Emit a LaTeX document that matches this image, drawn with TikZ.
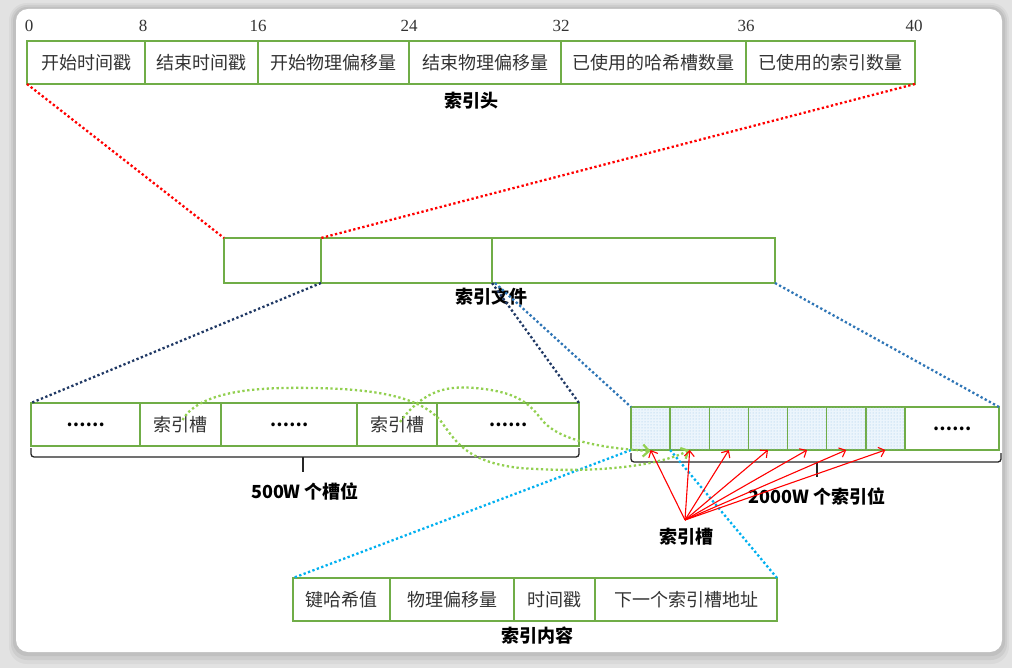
\documentclass[tikz,border=0pt]{standalone}
\usepackage{fontspec}
\newfontfamily\cjk{Noto Sans CJK SC}
\newfontfamily\numfont{Liberation Serif}
\usetikzlibrary{arrows.meta,patterns}
\definecolor{cellgreen}{RGB}{112,173,71}
\definecolor{curvegreen}{RGB}{146,208,80}
\definecolor{navyline}{RGB}{31,56,100}
\definecolor{blueline}{RGB}{46,117,182}
\definecolor{cyanline}{RGB}{0,176,240}
\definecolor{bgout}{RGB}{226,226,226}
\definecolor{shadefill}{RGB}{236,245,252}
\definecolor{shadedot}{RGB}{150,195,230}
\begin{document}
\begin{tikzpicture}[x=1pt,y=-1pt,
  cell/.style={draw=cellgreen, line width=1.4pt, minimum height=43pt, inner sep=0pt, outer sep=0pt,
    font=\cjk\fontsize{18}{20}\selectfont, text=black!80},
  shaded/.style={cell, fill=shadefill, postaction={pattern=dots, pattern color=shadedot}},
  dots/.style={font=\cjk\bfseries\fontsize{17}{20}\selectfont, text=black},
  lbl/.style={font=\cjk\bfseries\fontsize{18}{20}\selectfont, inner sep=0pt, text=black},
  num/.style={font=\numfont\fontsize{17}{20}\selectfont, inner sep=0pt, text=black!80},
  dotline/.style={line width=2.3pt, dash pattern=on 2.3pt off 2.4pt},
  greencurve/.style={curvegreen, line width=2.3pt, dash pattern=on 2.3pt off 2.6pt,
    -{Straight Barb[length=6pt,width=12pt,line width=2.2pt]}},
  redarrow/.style={red, line width=1.1pt, -{Straight Barb[length=5.5pt,width=10pt]}},
  bracepath/.style={black!85, line width=1.3pt, rounded corners=3pt}
]
\useasboundingbox (0,0) rectangle (1012,668);
% background and card
\fill[bgout] (0,0) rectangle (1012,668);
\fill[black, opacity=0.04, rounded corners=18pt] (9,3) rectangle (1009,664);
\fill[black, opacity=0.05, rounded corners=16pt] (11,5) rectangle (1007,660);
\fill[black, opacity=0.06, rounded corners=14pt] (13,7) rectangle (1005,656);
\fill[white, rounded corners=12pt] (16,9) rectangle (1002,652);

% ===== header =====
\node[cell, minimum width=118pt] (h1) at (86,62.5) {开始时间戳};
\node[cell, minimum width=113pt] (h2) at (201.5,62.5) {结束时间戳};
\node[cell, minimum width=151pt] (h3) at (333.5,62.5) {开始物理偏移量};
\node[cell, minimum width=152pt] (h4) at (485,62.5) {结束物理偏移量};
\node[cell, minimum width=185pt] (h5) at (653.5,62.5) {已使用的哈希槽数量};
\node[cell, minimum width=169pt] (h6) at (830.5,62.5) {已使用的索引数量};
\node[num] (n0) at (29,26) {0};
\node[num] (n8) at (143,26) {8};
\node[num] (n16) at (258,26) {16};
\node[num] (n24) at (409,26) {24};
\node[num] (n32) at (561,26) {32};
\node[num] (n36) at (746,26) {36};
\node[num] (n40) at (914,26) {40};
\node[lbl] (lh) at (471,101) {索引头};

% ===== index file =====
\node[cell, minimum width=97pt, minimum height=45pt] (m1) at (272.5,260.5) {};
\node[cell, minimum width=171pt, minimum height=45pt] (m2) at (406.5,260.5) {};
\node[cell, minimum width=283pt, minimum height=45pt] (m3) at (633.5,260.5) {};
\node[lbl] (lm) at (491,297) {索引文件};

% ===== slot bar =====
\node[cell, dots, minimum width=109pt] (s1) at (85.5,424.5) {……};
\node[cell, minimum width=81pt] (s2) at (180.5,424.5) {索引槽};
\node[cell, dots, minimum width=136pt] (s3) at (289,424.5) {……};
\node[cell, minimum width=80pt] (s4) at (397,424.5) {索引槽};
\node[cell, dots, minimum width=142pt] (s5) at (508,424.5) {……};
\draw[bracepath] (31,448) -- (31,457) -- (579,457) -- (579,448);
\coordinate (sb) at (303,457);
\draw[black!85, line width=1.6pt] (sb) -- ++(0,15);
\node[lbl] (ls) at (305,492) {500W 个槽位};

% ===== index bar =====
\foreach \k in {1,...,7} {
  \node[shaded, minimum width=39.14pt] (i\k) at ({631+39.14*(\k-0.5)},428.5) {};
}
\node[cell, dots, minimum width=94pt] (i8) at (952,428.5) {……};
\draw[bracepath] (631,453) -- (631,462) -- (1001,462) -- (1001,453);
\coordinate (ib) at (817,462);
\draw[black!85, line width=1.6pt] (ib) -- ++(0,15);
\node[lbl] (li) at (817,496) {2000W 个索引位};

% ===== content =====
\node[cell, minimum width=97pt] (c1) at (341.5,599.5) {键哈希值};
\node[cell, minimum width=124pt] (c2) at (452,599.5) {物理偏移量};
\node[cell, minimum width=81pt] (c3) at (554.5,599.5) {时间戳};
\node[cell, minimum width=182pt] (c4) at (686,599.5) {下一个索引槽地址};
\node[lbl] (lc) at (537,636) {索引内容};

% ===== dotted connectors =====
\draw[dotline, red] (h1.south west) -- (m1.north west);
\draw[dotline, red] (h6.south east) -- (m1.north east);
\draw[dotline, navyline] (m1.south east) -- (s1.north west);
\draw[dotline, navyline] (m2.south east) -- (s5.north east);
\draw[dotline, blueline] ([xshift=3pt]m2.south east) -- (i1.north west);
\draw[dotline, blueline] (m3.south east) -- (i8.north east);
\draw[dotline, cyanline] (i1.south west) -- (c1.north west);
\draw[dotline, cyanline] (i1.south east) -- (c4.north east);

% ===== green curves =====
\draw[greencurve] ([xshift=2pt,yshift=-17pt]s2.north) .. controls (200,390) and (260,387) .. (313,388)
  .. controls (380,389) and (420,398) .. (440,420)
  .. controls (455,440) and (465,462) .. (520,468)
  .. controls (600,474) and (660,465) .. (i2.south);
\draw[greencurve] ([xshift=3pt,yshift=-19pt]s4.north) .. controls (425,388) and (450,386) .. (475,388)
  .. controls (520,392) and (530,405) .. (542,420)
  .. controls (558,440) and (600,448) .. ([yshift=-1pt]i1.south);

% ===== red arrows =====
\coordinate (ro) at (685,520);
\foreach \k in {1,...,7} {
  \draw[redarrow] (ro) -- (i\k.south);
}
\node[lbl] (lr) at (686,537) {索引槽};
\end{tikzpicture}
\end{document}
